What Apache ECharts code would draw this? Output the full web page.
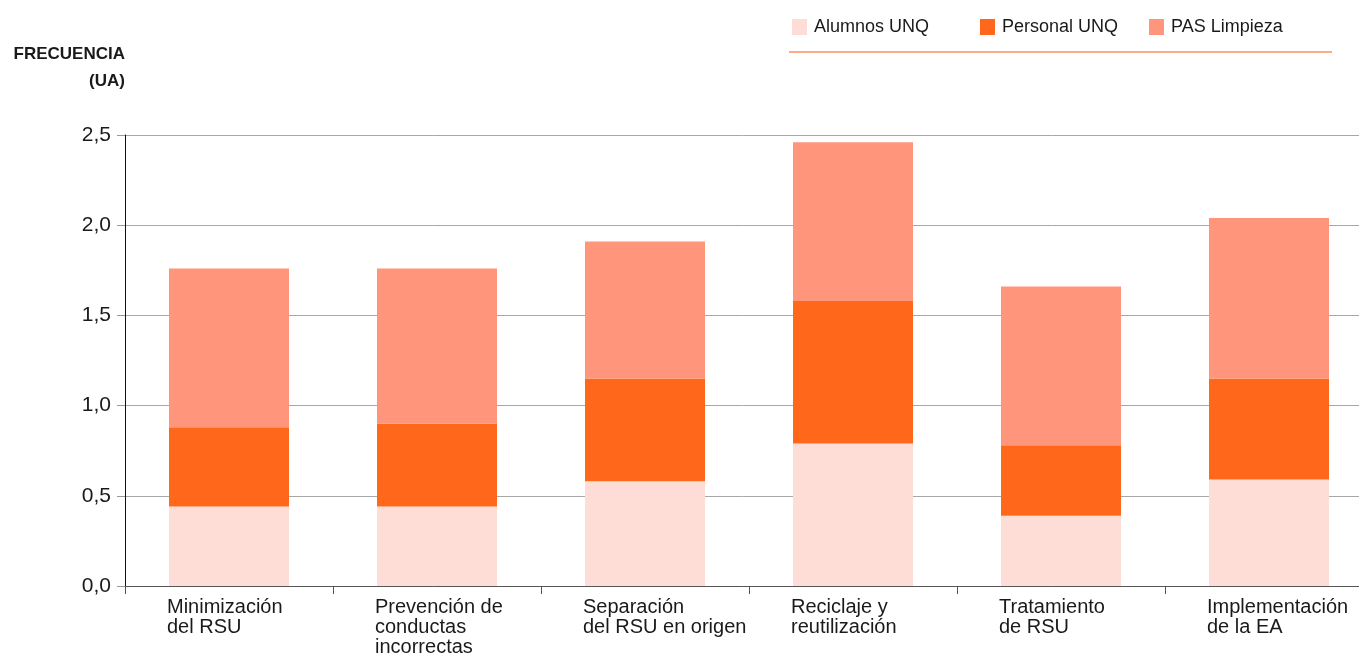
<!DOCTYPE html>
<html>
<head>
<meta charset="utf-8">
<script src="https://cdn.jsdelivr.net/npm/echarts@6/dist/echarts.min.js"></script>
<style>
html,body{margin:0;padding:0;background:#fff;}
#chart{width:1359px;height:655px;}
</style>
</head>
<body>
<div id="chart"></div>
<script>
const categories = [
  'Minimización\ndel RSU',
  'Prevención de\nconductas\nincorrectas',
  'Separación\ndel RSU en origen',
  'Reciclaje y\nreutilización',
  'Tratamiento\nde RSU',
  'Implementación\nde la EA'
];
const seriesNames = ['Alumnos UNQ', 'Personal UNQ', 'PAS Limpieza'];
const alumnos = [0.44, 0.44, 0.58, 0.79, 0.39, 0.59];
const personal = [0.44, 0.46, 0.57, 0.79, 0.39, 0.56];
const pas = [0.88, 0.86, 0.76, 0.88, 0.88, 0.89];
const yTicks = [0, 0.5, 1.0, 1.5, 2.0, 2.5];

const colors = ['#fdddd5', '#ff681b', '#ff967b'];
const font = 'Liberation Sans, Arial, sans-serif';

const chart = echarts.init(document.getElementById('chart'));
const legendLefts = [787, 975, 1144];
const option = {
  animation: false,
  title: {
    text: 'FRECUENCIA\n(UA)',
    left: 120, top: 36, textAlign: 'right',
    textStyle: {fontFamily: font, fontSize: 17, fontWeight: 'bold', color: '#1a1a1a', lineHeight: 27, align: 'right'}
  },
  legend: seriesNames.map((n, i) => ({
    data: [n], left: legendLefts[i], top: 13,
    itemWidth: 15, itemHeight: 16, itemGap: 0, icon: 'rect',
    textStyle: {fontFamily: font, fontSize: 18, color: '#1a1a1a', padding: [0, 0, 0, 2]}
  })),
  graphic: [{
    type: 'line', shape: {x1: 789, y1: 52, x2: 1332, y2: 52},
    style: {stroke: '#ff9262', lineWidth: 1.5}
  }],
  grid: {left: 125, width: 1248, top: 135, height: 451, containLabel: false, outerBoundsMode: 'none'},
  xAxis: {
    type: 'category', data: categories,
    axisLine: {lineStyle: {color: '#555', width: 1}},
    axisTick: {show: true, length: 8, lineStyle: {color: '#555'}},
    axisLabel: {
      margin: 11,
      formatter: v => v.split('\n').map(s => '{a|' + s + '}').join('\n'),
      rich: {a: {width: 124, align: 'left', fontFamily: font, fontSize: 20, color: '#1a1a1a', lineHeight: 20}}
    }
  },
  yAxis: {
    type: 'value', min: 0, max: 2.5, interval: 0.5,
    axisLine: {show: true, lineStyle: {color: '#111', width: 1}},
    axisTick: {show: true, length: 8, lineStyle: {color: '#999'}},
    splitLine: {lineStyle: {color: '#a8a8a8', width: 1}},
    axisLabel: {
      margin: 14, fontFamily: font, fontSize: 21, color: '#1a1a1a',
      formatter: v => yTicks.includes(v) ? v.toFixed(1).replace('.', ',') : ''
    }
  },
  series: [alumnos, personal, pas].map((d, i) => ({
    name: seriesNames[i], type: 'bar', stack: 'total', data: d,
    barWidth: 120, itemStyle: {color: colors[i]}
  }))
};
chart.setOption(option);
</script>
</body>
</html>
